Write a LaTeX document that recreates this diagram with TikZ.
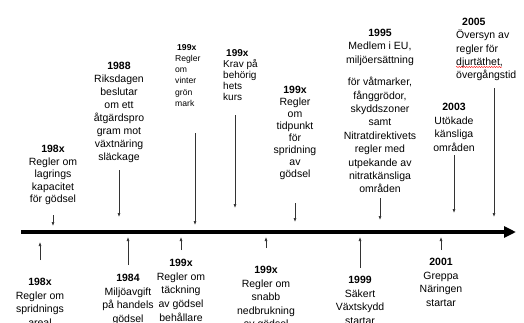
\documentclass[tikz,border=0pt]{standalone}
\usepackage{fontspec}
\setmainfont{Liberation Sans}
\usetikzlibrary{
  arrows.meta,
  decorations.pathmorphing
}

\begin{document}
\begin{tikzpicture}[x=1pt, y=-1pt,
    ev/.style={align=center, inner sep=0pt, anchor=north,
        font=\fontsize{10.5}{13.4}\selectfont},
    evleft/.style={ev, align=left, anchor=north west},
    pin/.style={-{Latex[length=4pt,width=3pt]}, semithick, black!80}]
  \useasboundingbox (0,0) rectangle (524,322);
  \clip (0,0) rectangle (524,322);

  % time axis
  \coordinate (t0) at (21,232);
  \coordinate (t1) at (516,232);
  \draw[line width=3.5pt, -{Triangle[length=12pt,width=11pt]}] (t0) -- (t1);

  % above the axis
  \node[ev, font=\fontsize{10.5}{12.5}\selectfont] (lager) at (53,145)
    {\textbf{198x}\\Regler om\\lagrings\\kapacitet\\för gödsel};
  \node[ev, font=\fontsize{10.5}{13}\selectfont] (riksdag) at (119,62)
    {\textbf{1988}\\Riksdagen\\beslutar\\om ett\\åtgärdspro\\gram mot\\växtnäring\\släckage};
  \node[evleft, font=\fontsize{8.6}{11.2}\selectfont] (vinter) at (175,44)
    {\hspace*{2pt}\textbf{199x}\\Regler\\om\\vinter\\grön\\mark};
  \node[evleft, font=\fontsize{10}{11.2}\selectfont] (kurs) at (223,49)
    {\hspace*{3pt}\textbf{199x}\\Krav på\\behörig\\hets\\kurs};
  \node[ev, font=\fontsize{10.5}{12}\selectfont] (tidpunkt) at (295,86)
    {\textbf{199x}\\Regler\\om\\tidpunkt\\för\\spridning\\av\\gödsel};
  \node[ev] (eu) at (380,29)
    {\textbf{1995}\\Medlem i EU,\\miljöersättning\\[9pt]för våtmarker,\\fånggrödor,\\skyddszoner\\samt\\Nitratdirektivets\\regler med\\utpekande av\\nitratkänsliga\\områden};
  \node[ev, font=\fontsize{10.5}{13.5}\selectfont] (utokade) at (454,103)
    {\textbf{2003}\\Utökade\\känsliga\\områden};
  \node[evleft, font=\fontsize{10.5}{13.3}\selectfont] (oversyn) at (456,18)
    {\hspace*{6pt}\textbf{2005}\\Översyn av\\regler för\\djurtäthet,\\övergångstid};
  \draw[red, line width=0.4pt, decorate,
      decoration={snake, amplitude=0.6pt, segment length=2.5pt}]
    (456,67) -- (502,67);

  \coordinate (lager-s) at (53,215);    \coordinate (lager-t) at (53,226);
  \coordinate (riksdag-s) at (119,170); \coordinate (riksdag-t) at (119,217);
  \coordinate (vinter-s) at (195,133);  \coordinate (vinter-t) at (195,225);
  \coordinate (kurs-s) at (235,115);    \coordinate (kurs-t) at (235,208);
  \coordinate (tidpunkt-s) at (295,203);\coordinate (tidpunkt-t) at (295,222);
  \coordinate (eu-s) at (380,198);      \coordinate (eu-t) at (380,220);
  \coordinate (utokade-s) at (454,155); \coordinate (utokade-t) at (454,213);
  \coordinate (oversyn-s) at (494,88);  \coordinate (oversyn-t) at (494,217);
  \foreach \n in {lager,riksdag,vinter,kurs,tidpunkt,eu,utokade,oversyn} {
      \draw[pin] (\n-s) -- (\n-t);
    }

  % below the axis
  \node[ev, font=\fontsize{10.5}{13.5}\selectfont] (areal) at (40,278)
    {\textbf{198x}\\Regler om\\spridnings\\areal};
  \node[ev, font=\fontsize{10.5}{13.7}\selectfont] (avgift) at (128,274)
    {\textbf{1984}\\Miljöavgift\\på handels\\gödsel};
  \node[ev, font=\fontsize{10.5}{13.7}\selectfont] (tackning) at (181,259)
    {\textbf{199x}\\Regler om\\täckning\\av gödsel\\behållare};
  \node[ev, font=\fontsize{10.5}{13.5}\selectfont] (snabb) at (266,266)
    {\textbf{199x}\\Regler om\\snabb\\nedbrukning\\av gödsel};
  \node[ev, font=\fontsize{10.5}{13.5}\selectfont] (vaxtskydd) at (360,276)
    {\textbf{1999}\\Säkert\\Växtskydd\\startar};
  \node[ev, font=\fontsize{10.5}{13.5}\selectfont] (greppa) at (441,258)
    {\textbf{2001}\\Greppa\\Näringen\\startar};

  \coordinate (areal-s) at (40,260);     \coordinate (areal-t) at (40,242);
  \coordinate (avgift-s) at (128,265);   \coordinate (avgift-t) at (128,237);
  \coordinate (tackning-s) at (181,250); \coordinate (tackning-t) at (181,237);
  \coordinate (snabb-s) at (266,248);    \coordinate (snabb-t) at (266,237);
  \coordinate (vaxtskydd-s) at (360,268);\coordinate (vaxtskydd-t) at (360,237);
  \coordinate (greppa-s) at (441,250);   \coordinate (greppa-t) at (441,237);
  \foreach \n in {areal,avgift,tackning,snabb,vaxtskydd,greppa} {
      \draw[pin] (\n-s) -- (\n-t);
    }
\end{tikzpicture}
\end{document}
